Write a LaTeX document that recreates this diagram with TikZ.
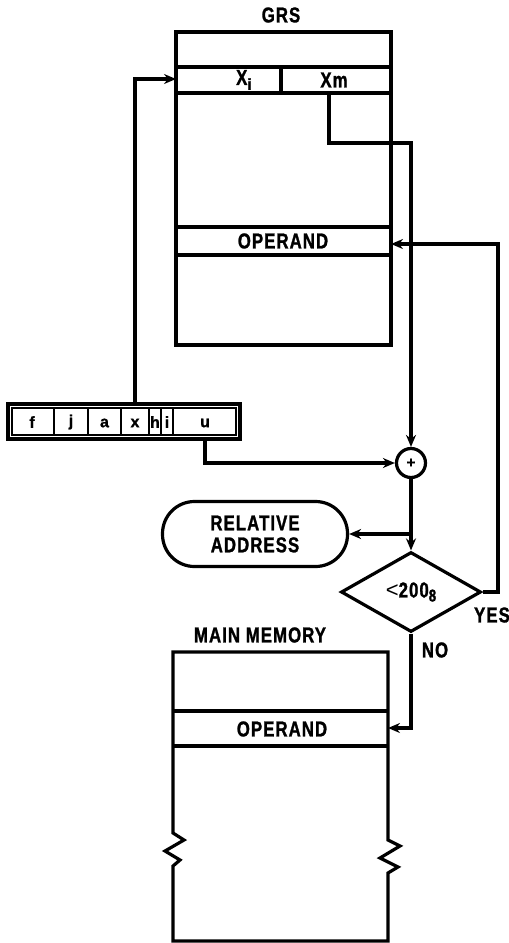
\documentclass[tikz,border=0pt]{standalone}
\usepackage{fontspec}
\setmainfont{Liberation Sans}
\newfontfamily\heavy{Liberation Sans Bold}[FakeStretch=0.78,FakeBold=1.2,LetterSpace=5]
\newfontfamily\heavyn{Liberation Sans Bold}[FakeBold=1.2]
\usetikzlibrary{arrows.meta,shapes.geometric}
\begin{document}
\begin{tikzpicture}[x=1pt,y=-1pt,line width=3.2pt,line join=miter,
  lbl/.style={font=\fontsize{21.5}{22}\heavy,inner sep=0pt},
  small/.style={font=\fontsize{16}{17}\heavyn,inner sep=0pt},
  arr/.style={-{Stealth[length=12pt,width=10pt]},line width=3.2pt},
  box/.style={draw,inner sep=0pt}]
\useasboundingbox (0,0) rectangle (509,943);

% ---------------- GRS ----------------
\node[lbl] (grslbl) at (281,15) {GRS};
\node[box,minimum width=215pt,minimum height=313pt] (grs) at (283.5,188.5) {};
\draw (176,67) -- (391,67);
\draw (176,93) -- (391,93);
\draw (281,67) -- (281,93);
\draw (176,227) -- (391,227);
\draw (176,255) -- (391,255);
\node[lbl] (xi) at (244,80) {X\raisebox{-5pt}{\fontsize{16}{16}\heavyn i}};
\node[lbl] (xm) at (334,80) {Xm};
\node[lbl] (op1) at (283,241) {OPERAND};
\coordinate (xiin) at (176,79);
\coordinate (xmsrc) at (329,93);
\coordinate (op1in) at (391,244);

% ---------------- instruction word ----------------
\node[box,minimum width=232pt,minimum height=35pt] (instr) at (124,421.5) {};
\draw[line width=2pt] (12,408) rectangle (236,435);
\foreach \xx in {54,88,121,149,161,173}
  \draw[line width=2.4pt] (\xx,408) -- (\xx,435);
\node[small] (cf) at (32,422) {f};
\node[small] (cj) at (71,422) {j};
\node[small] (ca) at (104.5,423) {a};
\node[small] (cx) at (135,423) {x};
\node[small] (ch) at (155,422) {h};
\node[small] (ci) at (167,422) {i};
\node[small] (cu) at (205,423) {u};
\coordinate (itop) at (135,404);
\coordinate (ibot) at (205,439);

% ---------------- adder, relative address, compare ----------------
\node[draw,circle,minimum size=29pt,inner sep=0pt,font=\fontsize{15}{15}\heavyn] (add) at (411,463) {+};
\node[draw,rounded corners=32pt,minimum width=185pt,minimum height=65pt,inner sep=0pt,
      font=\fontsize{21.5}{22}\heavy,align=center] (rel) at (255,534) {RELATIVE\\ADDRESS};
\node[draw,diamond,minimum width=140pt,minimum height=80pt,inner sep=0pt,
      font=\fontsize{21.5}{22}\heavy] (cmp) at (411,592) {{\fontsize{22}{22}\selectfont\normalfont <}200\raisebox{-4pt}{\fontsize{17}{17}\heavy 8}};
\coordinate (branch) at (411,534);
\coordinate (yesturn) at (498,592);
\node[lbl] (yes) at (492,615) {YES};
\node[lbl] (no) at (435,650) {NO};

% ---------------- main memory ----------------
\node[lbl] (mmlbl) at (260,635) {MAIN MEMORY};
\draw (173,652) -- (388,652) -- (388,840) -- (400,846) -- (380,858) -- (398,867) -- (388,873)
      -- (388,941) -- (173,941) -- (173,866) -- (180,860) -- (165,851) -- (184,840)
      -- (173,833) -- cycle;
\draw (173,711) -- (388,711);
\draw (173,746) -- (388,746);
\node[lbl] (op2) at (282,729) {OPERAND};
\coordinate (op2in) at (388,728);

% ---------------- connectors ----------------
\draw[arr] (itop) |- (xiin);
\draw[arr] (xmsrc) |- (411,143) -- (add.north);
\draw[arr] (ibot) |- (add.west);
\draw[arr] (add.south) -- (cmp.north);
\draw[arr] (branch) -- (rel.east);
\draw[arr] (cmp.east) -- (yesturn) |- (op1in);
\draw[arr] (cmp.south) |- (op2in);
\end{tikzpicture}
\end{document}
